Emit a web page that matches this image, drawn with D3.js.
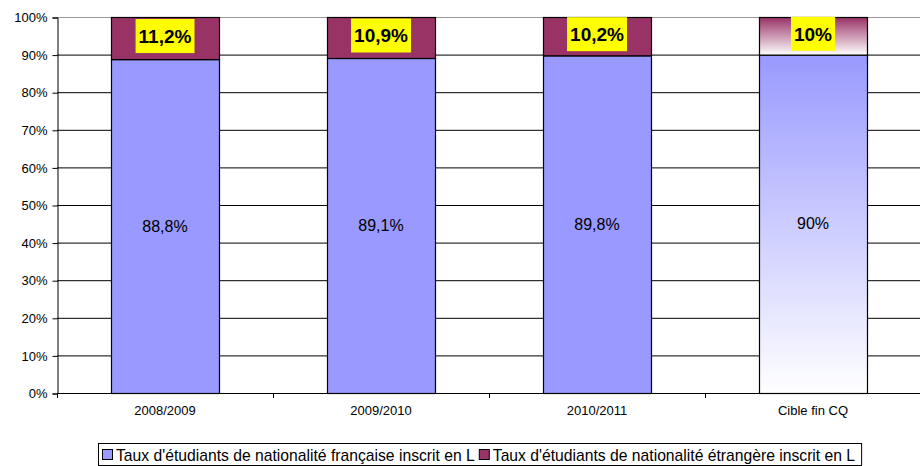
<!DOCTYPE html>
<html>
<head>
<meta charset="utf-8">
<script src="https://cdn.jsdelivr.net/npm/d3@7"></script>
<style>
body { margin: 0; background: #fff; }
svg, svg text { font-family: "Liberation Sans", Arial, sans-serif; }
</style>
</head>
<body>
<script>
// donnees
var categories = ["2008/2009", "2009/2010", "2010/2011", "Cible fin CQ"];
var francais = [88.8, 89.1, 89.8, 90];
var etrangers = [11.2, 10.9, 10.2, 10];
var serie_noms = ["Taux d'étudiants de nationalité française inscrit en L",
                  "Taux d'étudiants de nationalité étrangère inscrit en L"];
var y_ticks = [0, 10, 20, 30, 40, 50, 60, 70, 80, 90, 100];

var svg_w = 920, svg_h = 466;
var m = {left: 57, top: 17, right: -1, bottom: 73};

var svg = d3.select("body").append("svg")
	.attr("width", svg_w)
	.attr("height", svg_h);

var defs = svg.append("defs");
var g1 = defs.append("linearGradient").attr("id", "gradBleu")
	.attr("x1", 0).attr("y1", 0).attr("x2", 0).attr("y2", 1);
g1.append("stop").attr("offset", "0%").attr("stop-color", "#9999ff");
g1.append("stop").attr("offset", "100%").attr("stop-color", "#ffffff");
var g2 = defs.append("linearGradient").attr("id", "gradRouge")
	.attr("x1", 0).attr("y1", 0).attr("x2", 0).attr("y2", 1);
g2.append("stop").attr("offset", "0%").attr("stop-color", "#993366");
g2.append("stop").attr("offset", "100%").attr("stop-color", "#ffffff");

var x = d3.scaleBand()
	.domain(categories)
	.range([m.left, svg_w - m.right])
	.paddingInner(0.5)
	.paddingOuter(0.25);

var y = d3.scaleLinear()
	.domain([0, 100])
	.range([svg_h - m.bottom, m.top]);

var fmt = function(v) { return String(v).replace(".", ",") + "%"; };

// grille
svg.append("g").selectAll("line")
	.data(y_ticks.filter(function(d) { return d > 0; }))
	.enter().append("line")
	.attr("x1", m.left).attr("x2", svg_w)
	.attr("y1", function(d) { return y(d) + 0.5; })
	.attr("y2", function(d) { return y(d) + 0.5; })
	.attr("stroke", function(d) { return d == 100 ? "#999" : "#000"; })
	.attr("stroke-width", 1);

// axe y
var y_axis = d3.axisLeft(y).tickValues(y_ticks)
	.tickFormat(function(d) { return d + "%"; })
	.tickSize(5).tickPadding(5);
var ya = svg.append("g")
	.attr("transform", "translate(" + (m.left + 0.5) + ",0.5)")
	.call(y_axis)
	.attr("font-family", null);
ya.select(".domain").attr("stroke", "#000");
ya.selectAll("text").attr("font-size", 13).attr("fill", "#000");

// barres
var bars = svg.append("g").selectAll("g")
	.data(categories)
	.enter().append("g");

bars.append("rect")
	.attr("x", function(d) { return x(d) + 0.5; })
	.attr("width", x.bandwidth())
	.attr("y", function(d, i) { return y(francais[i]) + 0.5; })
	.attr("height", function(d, i) { return y(0) - y(francais[i]); })
	.attr("fill", function(d, i) { return i == 3 ? "url(#gradBleu)" : "#9999ff"; })
	.attr("stroke", "#000").attr("stroke-width", 1.2);

bars.append("rect")
	.attr("x", function(d) { return x(d) + 0.5; })
	.attr("width", x.bandwidth())
	.attr("y", function(d, i) { return y(francais[i] + etrangers[i]) + 0.5; })
	.attr("height", function(d, i) { return y(francais[i]) - y(francais[i] + etrangers[i]); })
	.attr("fill", function(d, i) { return i == 3 ? "url(#gradRouge)" : "#993366"; })
	.attr("stroke", "#000").attr("stroke-width", 1.2);

// etiquettes francais
bars.append("text")
	.attr("x", function(d) { return x(d) + x.bandwidth() / 2; })
	.attr("y", function(d, i) { return y(francais[i] / 2); })
	.attr("dy", "0.35em")
	.attr("text-anchor", "middle")
	.attr("font-size", 16)
	.text(function(d, i) { return fmt(francais[i]); });

// etiquettes etrangers (fond jaune)
bars.each(function(d, i) {
	var gg = d3.select(this);
	var cx = x(d) + x.bandwidth() / 2;
	var cy = y(francais[i] + etrangers[i] / 2) - 2;
	var t = gg.append("text")
		.attr("x", cx).attr("y", cy)
		.attr("dy", "0.36em")
		.attr("text-anchor", "middle")
		.attr("font-size", 19)
		.attr("font-weight", "bold")
		.text(fmt(etrangers[i]));
	var bb = t.node().getBBox();
	gg.insert("rect", "text:last-child")
		.attr("x", bb.x - 3).attr("width", bb.width + 6)
		.attr("y", cy - 17).attr("height", 34)
		.attr("fill", "#ffff00");
	t.raise();
});

// axe x
svg.append("line")
	.attr("x1", m.left).attr("x2", svg_w)
	.attr("y1", y(0) + 0.5).attr("y2", y(0) + 0.5)
	.attr("stroke", "#000");
svg.append("g").selectAll("line")
	.data(categories)
	.enter().append("line")
	.attr("x1", function(d) { return x(d) - x.step() * x.paddingInner() / 2 + 0.5; })
	.attr("x2", function(d) { return x(d) - x.step() * x.paddingInner() / 2 + 0.5; })
	.attr("y1", y(0)).attr("y2", y(0) + 5)
	.attr("stroke", "#000");
svg.append("g").selectAll("text")
	.data(categories)
	.enter().append("text")
	.attr("x", function(d) { return x(d) + x.bandwidth() / 2; })
	.attr("y", y(0) + 22)
	.attr("text-anchor", "middle")
	.attr("font-size", 13)
	.text(function(d) { return d; });

// legende
var leg = svg.append("g");
var leg_box = leg.append("rect")
	.attr("x", 98.5).attr("y", 443.5)
	.attr("height", 22)
	.attr("fill", "#fff").attr("stroke", "#000");
var leg_cols = ["#9999ff", "#993366"];
var lx = 102;
serie_noms.forEach(function(nom, i) {
	leg.append("rect")
		.attr("x", lx + 0.5).attr("y", 449.5)
		.attr("width", 10).attr("height", 10)
		.attr("fill", leg_cols[i]).attr("stroke", "#000");
	var t = leg.append("text")
		.attr("x", lx + 14).attr("y", 460.5)
		.attr("font-size", 15.7)
		.text(nom);
	lx = lx + 14 + t.node().getComputedTextLength() + 4;
});
leg_box.attr("width", lx - 98 + 2);
</script>
</body>
</html>
